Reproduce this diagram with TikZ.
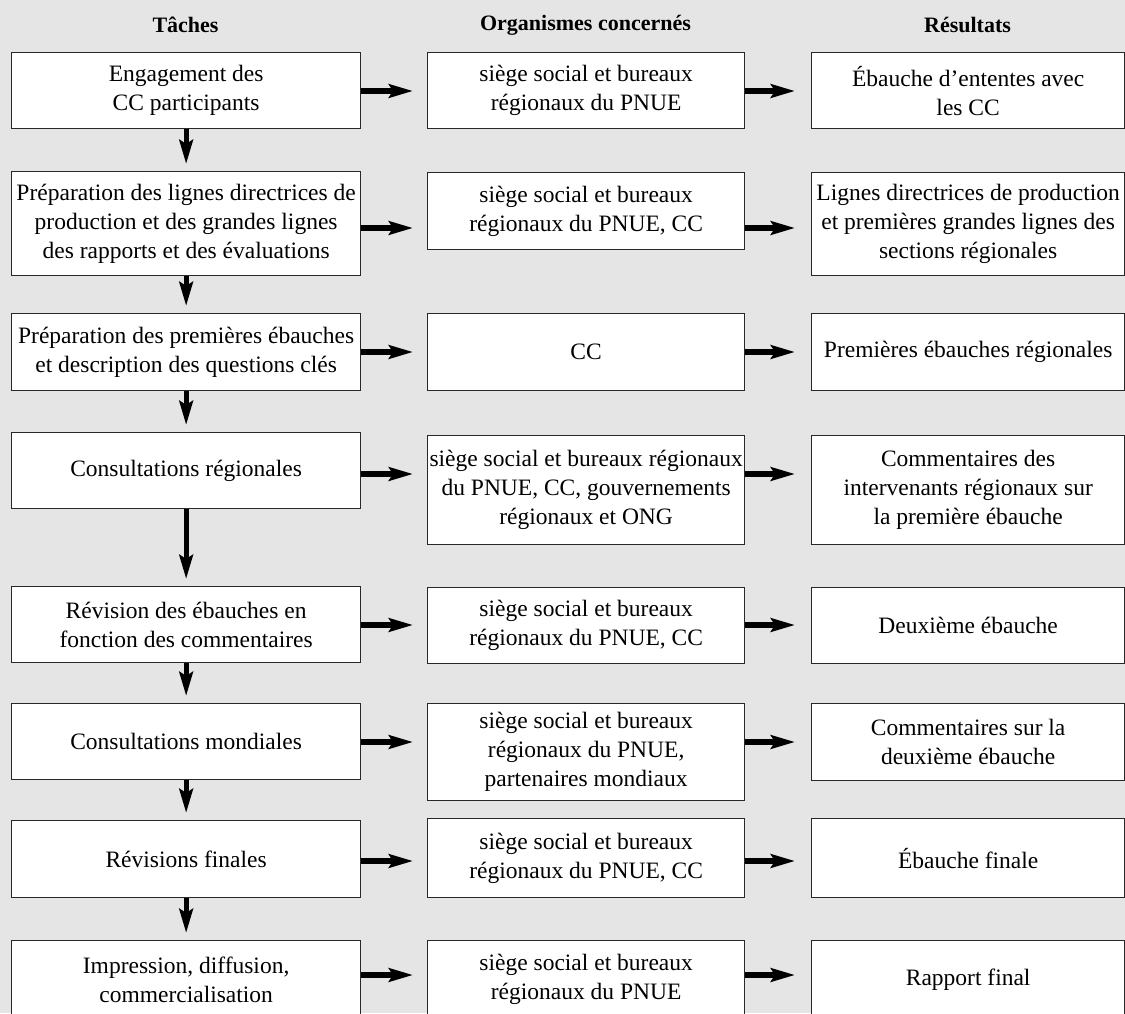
\documentclass[tikz,border=0pt]{standalone}
\usepackage{fontspec}
\setmainfont{Liberation Serif}
\usepackage{tikz}
\usetikzlibrary{arrows.meta}

\definecolor{backgray}{RGB}{229,229,229}
\definecolor{edgegray}{RGB}{40,40,40}

\begin{document}
\begin{tikzpicture}[x=1pt, y=-1pt,
    box/.style={draw=edgegray, fill=white, line width=1.3pt, inner sep=0pt, anchor=north west,
                align=center, font=\fontsize{23.5pt}{29pt}\selectfont},
    taskbox/.style={box, minimum width=349pt},
    orgbox/.style={box, minimum width=317pt},
    resbox/.style={box, minimum width=313pt},
    coltitle/.style={font=\fontsize{22pt}{26pt}\selectfont\bfseries},
    flow/.style={line width=5.2pt, -{Stealth[length=24pt, width=13.5pt, inset=4pt]}}]

% draw background
\fill[color=backgray] (0, 0) rectangle (1125, 1013);
\useasboundingbox (0, 0) rectangle (1125, 1013);

% draw column titles
\node[coltitle] (tache) at (185.5, 25) {Tâches};
\node[coltitle] (organisme) at (585.5, 25) {Organismes concernés};
\node[coltitle] (resultat) at (967.5, 25) {Résultats};

% draw task boxes
\node[taskbox, minimum height=76pt] (L1) at (11, 52) {Engagement des\\CC participants};
\node[taskbox, minimum height=104pt] (L2) at (11, 171) {Préparation des lignes directrices de\\production et des grandes lignes\\des rapports et des évaluations};
\node[taskbox, minimum height=77pt] (L3) at (11, 313) {Préparation des premières ébauches\\et description des questions clés};
\node[taskbox, minimum height=76pt] (L4) at (11, 432) {Consultations régionales};
\node[taskbox, minimum height=76pt] (L5) at (11, 586) {Révision des ébauches en\\fonction des commentaires};
\node[taskbox, minimum height=76pt] (L6) at (11, 703) {Consultations mondiales};
\node[taskbox, minimum height=77pt] (L7) at (11, 820) {Révisions finales};
\node[taskbox, minimum height=78pt] (L8) at (11, 940) {Impression, diffusion,\\commercialisation};

% draw organism boxes
\node[orgbox, minimum height=76pt] (M1) at (427, 52) {siège social et bureaux\\régionaux du PNUE};
\node[orgbox, minimum height=77pt] (M2) at (427, 172) {siège social et bureaux\\régionaux du PNUE, CC};
\node[orgbox, minimum height=77pt] (M3) at (427, 313) {CC};
\node[orgbox, minimum height=109pt] (M4) at (427, 435) {siège social et bureaux régionaux\\du PNUE, CC, gouvernements\\régionaux et ONG};
\node[orgbox, minimum height=76pt] (M5) at (427, 587) {siège social et bureaux\\régionaux du PNUE, CC};
\node[orgbox, minimum height=97pt] (M6) at (427, 703) {siège social et bureaux\\régionaux du PNUE,\\partenaires mondiaux};
\node[orgbox, minimum height=79pt] (M7) at (427, 818) {siège social et bureaux\\régionaux du PNUE, CC};
\node[orgbox, minimum height=78pt] (M8) at (427, 940) {siège social et bureaux\\régionaux du PNUE};

% draw result boxes
\node[resbox, minimum height=76pt] (R1) at (811, 52) {Ébauche d’ententes avec\\les CC};
\node[resbox, minimum height=103pt] (R2) at (811, 172) {Lignes directrices de production\\et premières grandes lignes des\\sections régionales};
\node[resbox, minimum height=77pt] (R3) at (811, 313) {Premières ébauches régionales};
\node[resbox, minimum height=109pt] (R4) at (811, 435) {Commentaires des\\intervenants régionaux sur\\la première ébauche};
\node[resbox, minimum height=76pt] (R5) at (811, 587) {Deuxième ébauche};
\node[resbox, minimum height=77pt] (R6) at (811, 703) {Commentaires sur la\\deuxième ébauche};
\node[resbox, minimum height=79pt] (R7) at (811, 818) {Ébauche finale};
\node[resbox, minimum height=78pt] (R8) at (811, 940) {Rapport final};

% draw horizontal arrows
\foreach \i/\y in {1/91, 2/228, 3/352, 4/474, 5/625, 6/742, 7/861, 8/975}
{
    \coordinate (a\i) at (0, \y);
    \draw[flow, shorten >=14pt] (L\i.east |- a\i) -- (M\i.west |- a\i);
    \draw[flow, shorten >=16pt] (M\i.east |- a\i) -- (R\i.west |- a\i);
}

% draw vertical arrows
\foreach \i/\j in {1/2, 2/3, 3/4, 4/5, 5/6, 6/7, 7/8}
{
    \draw[flow, shorten >=7pt] (L\i.south) -- (L\j.north);
}

\end{tikzpicture}
\end{document}
